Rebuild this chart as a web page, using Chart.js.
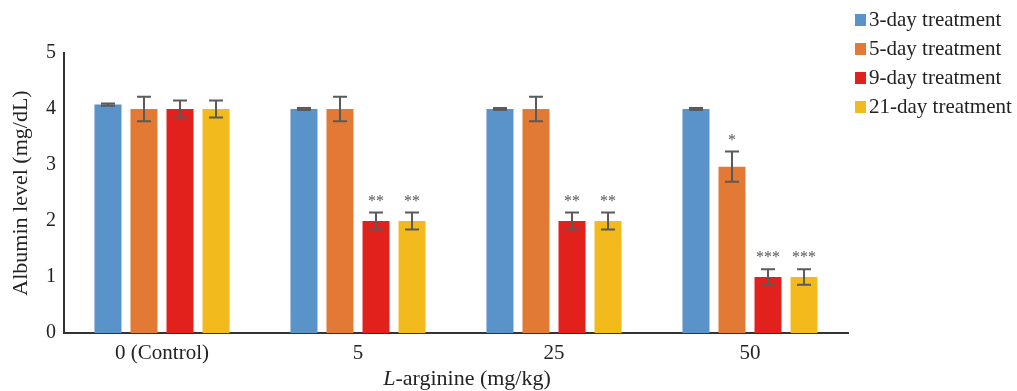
<!DOCTYPE html>
<html>
<head>
<meta charset="utf-8">
<script src="https://cdn.jsdelivr.net/npm/chart.js@4/dist/chart.umd.min.js"></script>
<style>
html,body{margin:0;padding:0;background:#fff;}
#wrap{width:1017px;height:391px;}
</style>
</head>
<body>
<div id="wrap"><canvas id="c" width="1017" height="391"></canvas></div>
<script>
const categories = ['0 (Control)', '5', '25', '50'];
const seriesLabels = ['3-day treatment', '5-day treatment', '9-day treatment', '21-day treatment'];
const day3 = [4.08, 4.0, 4.0, 4.0];
const day5 = [4.0, 4.0, 4.0, 2.97];
const day9 = [4.0, 2.0, 2.0, 1.0];
const day21 = [4.0, 2.0, 2.0, 1.0];
const err3 = [0.02, 0.02, 0.02, 0.02];
const err5 = [0.22, 0.22, 0.22, 0.27];
const err9 = [0.15, 0.15, 0.15, 0.14];
const err21 = [0.15, 0.15, 0.15, 0.14];
const sig3 = ['', '', '', ''];
const sig5 = ['', '', '', '*'];
const sig9 = ['', '**', '**', '***'];
const sig21 = ['', '**', '**', '***'];
const yTicks = [0, 1, 2, 3, 4, 5];
const colors = ['#5A92CA', '#E27A36', '#E2211C', '#F3BA1E'];

const values = [day3, day5, day9, day21];
const errors = [err3, err5, err9, err21];
const sigs = [sig3, sig5, sig9, sig21];
const FONT = '"Liberation Serif", "Times New Roman", serif';

const extras = {
  id: 'extras',
  afterDatasetsDraw(chart) {
    const ctx = chart.ctx;
    const y = chart.scales.y;
    ctx.save();
    chart.data.datasets.forEach((ds, di) => {
      const meta = chart.getDatasetMeta(di);
      meta.data.forEach((bar, i) => {
        const v = ds.data[i];
        const e = errors[di][i];
        const yt = y.getPixelForValue(v + e);
        const yb = y.getPixelForValue(v - e);
        ctx.strokeStyle = '#5a5a5a';
        ctx.lineWidth = 2;
        ctx.beginPath();
        ctx.moveTo(bar.x, yt); ctx.lineTo(bar.x, yb);
        ctx.moveTo(bar.x - 7, yt); ctx.lineTo(bar.x + 7, yt);
        ctx.moveTo(bar.x - 7, yb); ctx.lineTo(bar.x + 7, yb);
        ctx.stroke();
        const s = sigs[di][i];
        if (s) {
          ctx.fillStyle = '#555';
          ctx.font = '16px ' + FONT;
          ctx.textAlign = 'center';
          ctx.textBaseline = 'middle';
          ctx.fillText(s, bar.x, yt - 11);
        }
      });
    });
    ctx.restore();
  },
  afterDraw(chart) {
    const ctx = chart.ctx;
    const a = chart.chartArea;
    ctx.save();
    // x axis title with italic L
    ctx.fillStyle = '#222';
    ctx.textBaseline = 'middle';
    const part1 = 'L';
    const part2 = '-arginine (mg/kg)';
    ctx.font = 'italic 22px ' + FONT;
    const w1 = ctx.measureText(part1).width;
    ctx.font = '22px ' + FONT;
    const w2 = ctx.measureText(part2).width;
    const cx = (a.left + a.right) / 2 + 11;
    let x0 = cx - (w1 + w2) / 2;
    ctx.textAlign = 'left';
    ctx.font = 'italic 22px ' + FONT;
    ctx.fillText(part1, x0, 379);
    ctx.font = '22px ' + FONT;
    ctx.fillText(part2, x0 + w1, 379);
    // legend
    chart.data.datasets.forEach((ds, di) => {
      const yy = 20 + di * 29;
      ctx.fillStyle = ds.backgroundColor;
      ctx.fillRect(855, yy - 6, 11, 12);
      ctx.fillStyle = '#222';
      ctx.font = '21px ' + FONT;
      ctx.textAlign = 'left';
      ctx.fillText(ds.label, 869, yy);
    });
    ctx.restore();
  }
};

new Chart(document.getElementById('c'), {
  type: 'bar',
  data: {
    labels: categories,
    datasets: values.map((vals, i) => ({
      label: seriesLabels[i],
      data: vals,
      backgroundColor: colors[i],
      borderWidth: 0,
      categoryPercentage: 0.735,
      barPercentage: 0.75
    }))
  },
  options: {
    responsive: false,
    animation: false,
    devicePixelRatio: 1,
    layout: { padding: { top: 53, right: 169, left: 0, bottom: 0 } },
    plugins: { legend: { display: false }, tooltip: { enabled: false } },
    scales: {
      x: {
        grid: { display: false, drawTicks: false },
        border: { display: true, color: '#333', width: 2 },
        ticks: { color: '#222', font: { family: FONT, size: 21 }, padding: 8 },
        afterFit(s) { s.height = 58; }
      },
      y: {
        min: 0, max: 5,
        afterBuildTicks(s) { s.ticks = yTicks.map(v => ({ value: v })); },
        grid: { display: false, drawTicks: false },
        border: { display: true, color: '#333', width: 2 },
        ticks: { color: '#222', font: { family: FONT, size: 20 }, padding: 8 },
        title: { display: true, text: 'Albumin level (mg/dL)', color: '#222', font: { family: FONT, size: 22 }, padding: { top: 8, bottom: 0 } },
        afterFit(s) { s.width = 64; }
      }
    }
  },
  plugins: [extras]
});
</script>
</body>
</html>
